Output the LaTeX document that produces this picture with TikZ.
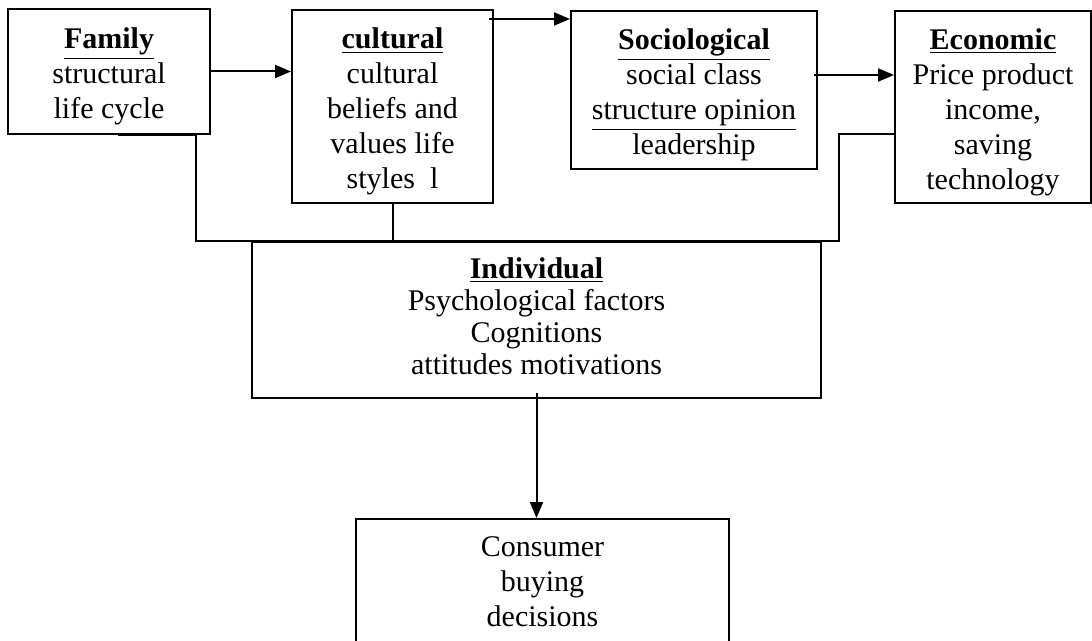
\documentclass[tikz,border=0pt]{standalone}
\usepackage{fontspec}
\setmainfont{Liberation Serif}
\usepackage{tikz}
\usetikzlibrary{calc}
\usetikzlibrary{positioning}
\usetikzlibrary{arrows.meta}

\newcommand{\topstrut}{\rule{0pt}{15.5pt}}

\begin{document}
\begin{tikzpicture}[x=0.5pt,y=-0.5pt,>={Triangle[length=8pt,width=6.5pt]},
    box/.style={draw,line width=1pt,inner sep=0pt,align=center,font=\fontsize{15}{17.5}\selectfont},
    link/.style={line width=1pt}]
      \useasboundingbox (0,0) rectangle (1092,641);
      \begin{scope}
      \clip (0,0) rectangle (1092,641);
      \node[box,minimum width=101pt,minimum height=62.5pt] (fam) at (109,71.5)
        {\topstrut\underline{\textbf{Family}}\\structural\\life cycle};
      \node[box,minimum width=100.5pt,minimum height=96.5pt] (cul) at (392.5,106.5)
        {\topstrut\underline{\textbf{cultural}}\\cultural\\beliefs and\\values life\\styles\ \ l};
      \node[box,minimum width=123pt,minimum height=79pt] (soc) at (694,90)
        {\topstrut\underline{\textbf{Sociological}}\\social class\\\underline{structure opinion}\\leadership};
      \node[box,minimum width=98pt,minimum height=96pt] (eco) at (993,107)
        {\topstrut\underline{\textbf{Economic}}\\Price product\\income,\\saving\\technology};
      \node[box,minimum width=284.5pt,minimum height=78pt,font=\fontsize{15}{16}\selectfont] (ind) at (536.5,320)
        {\underline{\textbf{Individual}}\\Psychological factors\\Cognitions\\attitudes motivations\\[-12pt]};
      \node[box,minimum width=186.5pt,minimum height=63pt] (cons) at (542.5,582)
        {Consumer\\buying\\decisions};
      \end{scope}
      % arrows between the top boxes
      \draw[link,->] (fam.east) -- (fam.east -| cul.west);
      \coordinate (cs) at ([xshift=-2.5pt,yshift=-5pt] cul.north east);
      \draw[link,->] (cs) -- (cs -| soc.west);
      \coordinate (se) at ([xshift=-2pt,yshift=7.5pt] soc.east);
      \draw[link,->] (se) -- (se -| eco.west);
      % joint line into individual
      \coordinate (busR) at ([xshift=8.5pt] ind.north east);
      \draw[link] ([xshift=4.5pt] fam.south) -- ([xshift=-7.5pt] fam.south east) |- (busR) |- ([yshift=-13.5pt] eco.west);
      \draw[link] (cul.south) -- (cul.south |- ind.north);
      \draw[link,->] ([yshift=3pt] ind.south) -- (ind.south |- cons.north);
\end{tikzpicture}
\end{document}
